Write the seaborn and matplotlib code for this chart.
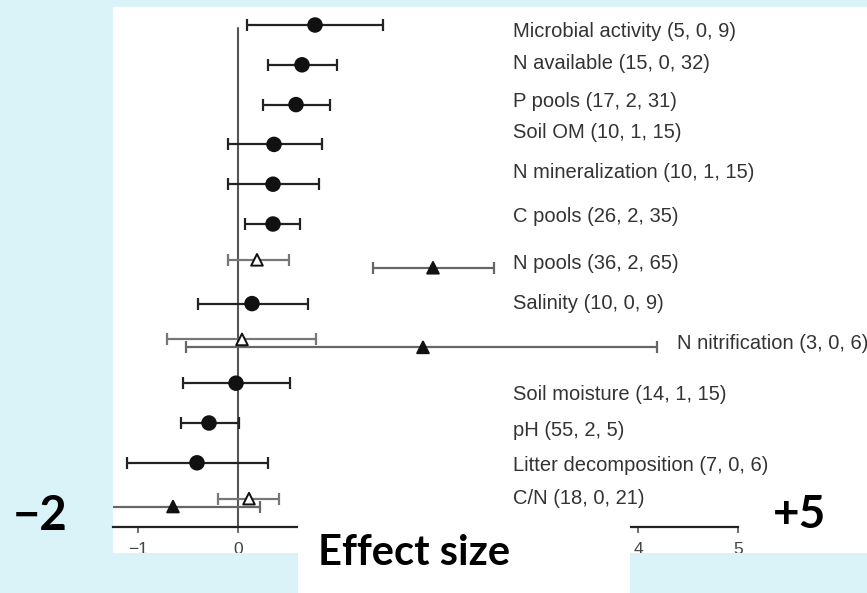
import matplotlib.pyplot as plt
import pandas as pd
import seaborn as sns
from matplotlib.patches import Rectangle

# effect sizes (mean, lower and upper CI)
labels = ["Microbial activity (5, 0, 9)", "N available (15, 0, 32)", "P pools (17, 2, 31)",
          "Soil OM (10, 1, 15)", "N mineralization (10, 1, 15)", "C pools (26, 2, 35)",
          "N pools (36, 2, 65)", "Salinity (10, 0, 9)", "N nitrification (3, 0, 6)",
          "Soil moisture (14, 1, 15)", "pH (55, 2, 5)", "Litter decomposition (7, 0, 6)",
          "C/N (18, 0, 21)"]

circle_rows = [0, 1, 2, 3, 4, 5, 7, 9, 10, 11]
circle_mean = [0.77, 0.64, 0.58, 0.36, 0.35, 0.35, 0.14, -0.02, -0.29, -0.41]
circle_lo = [0.09, 0.30, 0.25, -0.10, -0.10, 0.07, -0.40, -0.55, -0.57, -1.11]
circle_hi = [1.45, 0.99, 0.92, 0.84, 0.81, 0.62, 0.70, 0.52, 0.01, 0.30]

tri_rows = [6, 8, 12]
open_mean = [0.19, 0.04, 0.11]
open_lo = [-0.10, -0.71, -0.20]
open_hi = [0.51, 0.78, 0.41]
filled_mean = [1.95, 1.85, -0.65]
filled_lo = [1.35, -0.52, -1.60]
filled_hi = [2.56, 4.19, 0.22]

xticks = [-1, 0, 1, 2, 3, 4, 5]
# 1, 2 and 3 sit under the "Effect size" box on the slide
xticklabels = ["\u22121", "0", "", "", "", "4", "5"]

# layout (pixels)
W, H = 867, 593
ROW0, ROWSTEP = 25, 39.8
label_nudge = [7, -1, -3, -12, -12, -7, 0, 0, 0, 11, 8, 3, -4]
BLUE = "#daf3f8"

frames = []
for kind, rows, m, lo, hi, off in [("circle", circle_rows, circle_mean, circle_lo, circle_hi, 0.0),
                                   ("open", tri_rows, open_mean, open_lo, open_hi, -0.1),
                                   ("filled", tri_rows, filled_mean, filled_lo, filled_hi, 0.1)]:
    frames.append(pd.DataFrame({"row": rows, "mean": m, "lo": lo, "hi": hi, "kind": kind,
                                "y": [r + off for r in rows]}))
df = pd.concat(frames, ignore_index=True)

sns.set_style("white")
fig = plt.figure(figsize=(W / 100, H / 100), dpi=100, facecolor=BLUE)

# white panel behind the plot
fig.add_artist(Rectangle((113 / W, 1 - 553 / H), (W - 113) / W, (553 - 7) / H,
                         transform=fig.transFigure, facecolor="white", edgecolor="none", zorder=-1))

ax = fig.add_axes([113 / W, 1 - 527 / H, (W - 113) / W, (527 - 7) / H])
ax.set_facecolor("none")
ax.set_xlim(-1.25, -1.25 + (W - 113) / 100)
ax.set_ylim((527 - ROW0) / ROWSTEP, (7 - ROW0) / ROWSTEP)

ax.axvline(0, ymax=(527 - 28) / 520, color="#555555", lw=1.5, zorder=1)

bar_colors = {"circle": "#222222", "open": "#777777", "filled": "#666666"}
for kind, sub in df.groupby("kind"):
    ax.errorbar(sub["mean"], sub["y"], xerr=[sub["mean"] - sub["lo"], sub["hi"] - sub["mean"]],
                fmt="none", ecolor=bar_colors[kind], elinewidth=1.6, capsize=4.5, capthick=1.6,
                zorder=2)

sns.scatterplot(data=df, x="mean", y="y", hue="kind", style="kind", size="kind",
                palette={"circle": "#111111", "open": "white", "filled": "#111111"},
                markers={"circle": "o", "open": "^", "filled": "^"},
                sizes={"circle": 95, "open": 70, "filled": 70},
                edgecolor="#111111", linewidth=1.4, legend=False, zorder=3, ax=ax)

for i, lab in enumerate(labels):
    lx = 4.39 if lab.startswith("N nitrification") else 2.75
    ax.text(lx, i + label_nudge[i] / ROWSTEP, lab, fontsize=14.5, color="#333333",
            family="Liberation Sans", va="center", ha="left", clip_on=False)

ax.set_xticks(xticks)
ax.set_xticklabels(xticklabels)
ax.set_yticks([])
ax.set_xlabel("")
ax.set_ylabel("")
for s in ["top", "right", "left"]:
    ax.spines[s].set_visible(False)
ax.spines["bottom"].set_bounds(-1.25, 5)
ax.spines["bottom"].set_color("#222222")
ax.spines["bottom"].set_linewidth(1.6)
ax.tick_params(axis="x", bottom=True, direction="out", length=4, width=1.2, color="#555555",
               labelsize=12.5, labelcolor="#444444", pad=7)
for t in ax.get_xticklabels():
    t.set_family("Liberation Sans")

# overlays from the slide
fig.add_artist(Rectangle((113 / W, 0), (298 - 113) / W, 40 / H, transform=fig.transFigure,
                         facecolor=BLUE, edgecolor="none", zorder=10))
fig.add_artist(Rectangle((630 / W, 0), (W - 630) / W, 40 / H, transform=fig.transFigure,
                         facecolor=BLUE, edgecolor="none", zorder=10))
fig.add_artist(Rectangle((298 / W, 0), (630 - 298) / W, (H - 515) / H, transform=fig.transFigure,
                         facecolor="white", edgecolor="none", zorder=10))

fig.text(13 / W, 1 - 530 / H, "\u22122", fontsize=34, fontweight="bold", family="Lato",
         color="black", va="baseline", ha="left", zorder=11)
fig.text(773 / W, 1 - 528 / H, "+5", fontsize=33, fontweight="bold", family="Lato",
         color="black", va="baseline", ha="left", zorder=11)
fig.text(318 / W, 1 - 565 / H, "Effect size", fontsize=30, fontweight="bold", family="Lato",
         color="black", va="baseline", ha="left", zorder=11)

fig.savefig("out.png", dpi=100, facecolor=BLUE)
